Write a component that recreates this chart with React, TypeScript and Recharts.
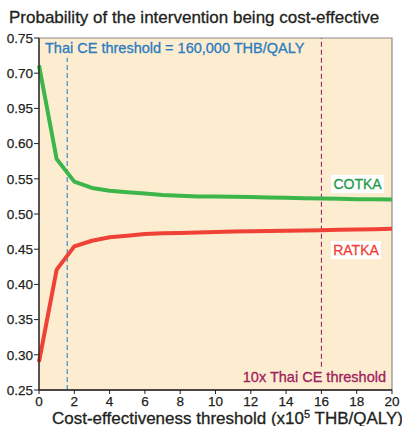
import React from 'react';
import { LineChart, Line, XAxis, YAxis, ReferenceArea, ReferenceLine } from 'recharts';

const thresholds = [0, 1, 2, 3, 4, 5, 6, 7, 8, 9, 10, 11, 12, 13, 14, 15, 16, 17, 18, 19, 20];
const cotka = [0.711, 0.578, 0.546, 0.537, 0.533, 0.531, 0.529, 0.527, 0.526, 0.525, 0.525, 0.5245, 0.524, 0.5235, 0.523, 0.5225, 0.522, 0.5215, 0.521, 0.5208, 0.5205];
const ratka = [0.29, 0.421, 0.454, 0.462, 0.467, 0.469, 0.4715, 0.4725, 0.473, 0.4738, 0.4745, 0.475, 0.4755, 0.476, 0.4763, 0.4767, 0.477, 0.4775, 0.478, 0.4785, 0.479];
const xTicks = [0, 2, 4, 6, 8, 10, 12, 14, 16, 18, 20];
const yTicks = [0.75, 0.7, 0.65, 0.6, 0.55, 0.5, 0.45, 0.4, 0.35, 0.3, 0.25];
const yTickLabels = ['0.75', '0.70', '0.95', '0.60', '0.55', '0.50', '0.45', '0.40', '0.35', '0.30', '0.25'];
const thaiThreshold = 1.6;
const tenXThreshold = 16;

const data = thresholds.map((x, i) => ({ x, cotka: cotka[i], ratka: ratka[i] }));

const FONT = '"Liberation Sans", Arial, Helvetica, sans-serif';
const tickStyle = { fontSize: 13.5, fill: '#231f20', fontFamily: FONT, stroke: '#231f20', strokeWidth: 0.25 };
const heavy = { WebkitTextStroke: '0.3px currentColor' } as React.CSSProperties;

export default function App() {
  return (
    <div style={{ position: 'absolute', left: 0, top: 0, width: 402, height: 426, fontFamily: FONT, background: '#fff' }}>
      <LineChart width={402} height={426} data={data} margin={{ top: 38, right: 10, bottom: 0, left: 0 }}>
        <ReferenceArea x1={0} x2={20} y1={0.25} y2={0.75} fill="#fdedd0" fillOpacity={1} stroke="#8a8a8a" strokeWidth={1.2} ifOverflow="visible" />
        <XAxis
          dataKey="x"
          type="number"
          domain={[0, 20]}
          ticks={xTicks}
          height={36}
          tick={tickStyle}
          tickSize={4}
          tickMargin={2}
          axisLine={{ stroke: '#231f20', strokeWidth: 1.3 }}
          tickLine={{ stroke: '#231f20' }}
          interval={0}
        />
        <YAxis
          type="number"
          domain={[0.25, 0.75]}
          ticks={yTicks}
          width={39}
          tick={tickStyle}
          tickSize={5}
          tickMargin={1}
          tickFormatter={(v: number) => yTickLabels[yTicks.findIndex((t) => Math.abs(t - v) < 1e-6)]}
          axisLine={{ stroke: '#231f20', strokeWidth: 1.3 }}
          tickLine={{ stroke: '#231f20' }}
          interval={0}
        />
        <ReferenceLine
          segment={[{ x: thaiThreshold, y: 0.25 }, { x: thaiThreshold, y: 0.722 }]}
          stroke="#4b93d0"
          strokeWidth={1.3}
          strokeDasharray="5 3"
        />
        <ReferenceLine
          segment={[{ x: tenXThreshold, y: 0.283 }, { x: tenXThreshold, y: 0.75 }]}
          stroke="#8e1a55"
          strokeWidth={1}
          strokeDasharray="5 3"
        />
        <Line dataKey="cotka" stroke="#3cb54a" strokeWidth={4} dot={false} isAnimationActive={false} strokeLinejoin="round" />
        <Line dataKey="ratka" stroke="#ef4136" strokeWidth={4} dot={false} isAnimationActive={false} strokeLinejoin="round" />
      </LineChart>

      <div style={{ position: 'absolute', left: 9, top: 7.5, fontSize: 17, color: '#231f20', whiteSpace: 'nowrap', lineHeight: 'normal', ...heavy }}>
        Probability of the intervention being cost-effective
      </div>
      <div style={{ position: 'absolute', left: 45, top: 40, fontSize: 14.5, color: '#2b7bbf', whiteSpace: 'nowrap', lineHeight: 'normal', ...heavy }}>
        Thai CE threshold = 160,000 THB/QALY
      </div>
      <div style={{ position: 'absolute', right: 16, top: 368.5, fontSize: 14.5, color: '#a0215d', whiteSpace: 'nowrap', lineHeight: 'normal', ...heavy }}>
        10x Thai CE threshold
      </div>
      <div style={{ position: 'absolute', left: 331, top: 175, width: 53, height: 18, lineHeight: '18px', background: '#fff', textAlign: 'center', fontSize: 14, color: '#1f9a48', ...heavy }}>
        COTKA
      </div>
      <div style={{ position: 'absolute', left: 331, top: 241, width: 50, height: 18, lineHeight: '18px', background: '#fff', textAlign: 'center', fontSize: 14, color: '#ef4136', ...heavy }}>
        RATKA
      </div>
      <div style={{ position: 'absolute', left: 52, top: 408.5, fontSize: 17, color: '#231f20', whiteSpace: 'nowrap', lineHeight: 'normal', ...heavy }}>
        Cost-effectiveness threshold (x10<span style={{ fontSize: 11, position: 'relative', top: -6 }}>5</span> THB/QALY)
      </div>
    </div>
  );
}
